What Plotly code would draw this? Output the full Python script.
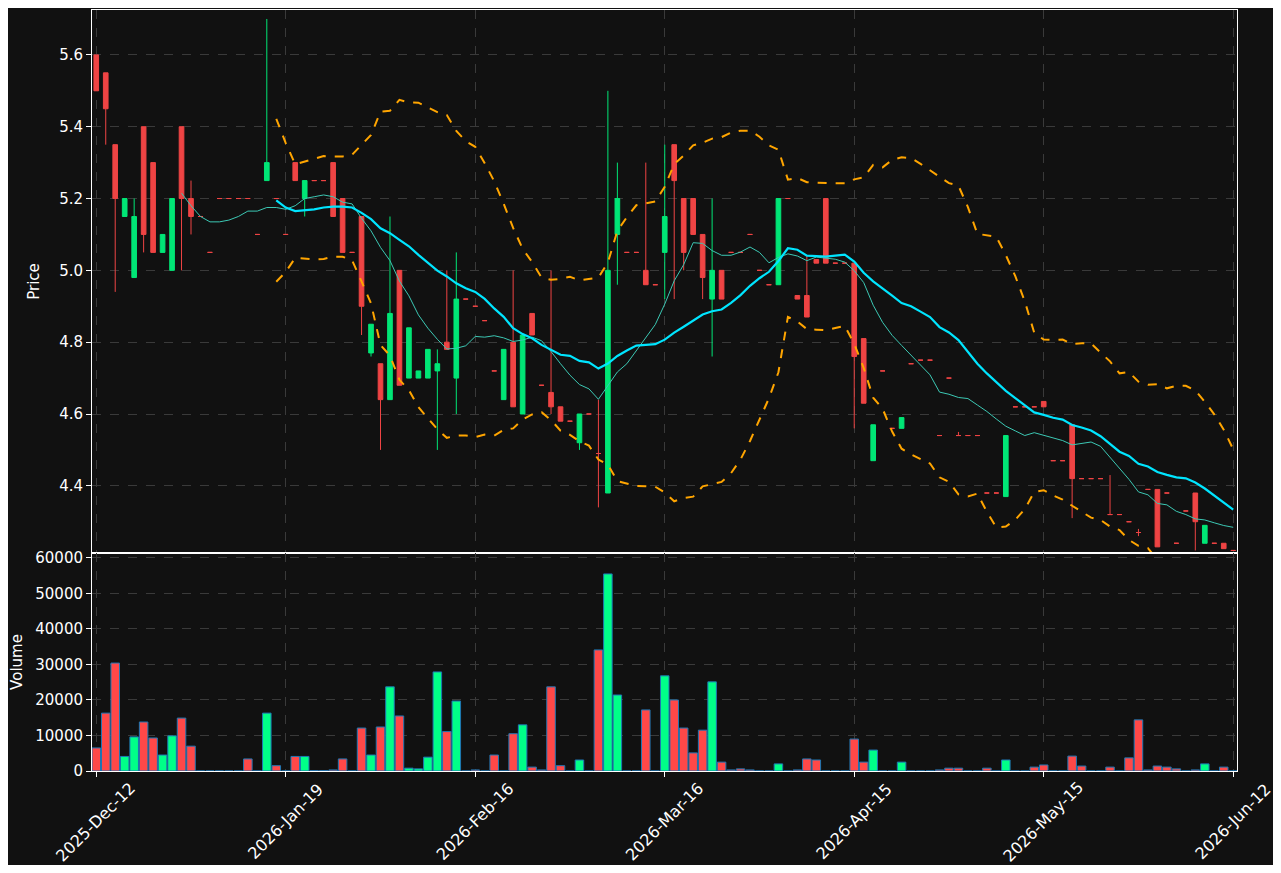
import pandas as pd
import plotly.graph_objects as go
from plotly.subplots import make_subplots

# candle data (index = trading day)
opens = [5.6, 5.55, 5.35, 5.15, 4.98, 5.4, 5.3, 5.05, 5.0, 5.4,
         5.2, 5.15, 5.05, 5.2, 5.2, 5.2, 5.2, 5.1, 5.25, 5.2,
         5.1, 5.3, 5.2, 5.25, 5.25, 5.3, 5.2, 5.05, 5.15, 4.77,
         4.74, 4.64, 5.0, 4.7, 4.7, 4.7, 4.72, 4.8, 4.7, 4.92,
         4.9, 4.86, 4.72, 4.64, 4.8, 4.6, 4.88, 4.68, 4.66, 4.62,
         4.58, 4.52, 4.6, 4.49, 4.38, 5.1, 5.05, 5.05, 5.0, 4.96,
         5.05, 5.35, 5.2, 5.2, 5.1, 4.92, 5.0, 5.05, 5.05, 5.1,
         5.0, 4.96, 4.96, 5.2, 4.93, 4.93, 5.03, 5.2, 5.02, 5.02,
         5.02, 4.81, 4.47, 4.72, 4.56, 4.56, 4.74, 4.75, 4.75, 4.54,
         4.7, 4.54, 4.54, 4.54, 4.38, 4.38, 4.37, 4.62, 4.62, 4.62,
         4.635, 4.47, 4.47, 4.57, 4.42, 4.42, 4.42, 4.32, 4.32, 4.3,
         4.27, 4.39, 4.39, 4.38, 4.24, 4.33, 4.38, 4.24, 4.24, 4.24, 4.22]
highs = [5.6, 5.55, 5.35, 5.2, 5.2, 5.4, 5.3, 5.1, 5.2, 5.4,
         5.25, 5.15, 5.05, 5.2, 5.2, 5.2, 5.2, 5.1, 5.7, 5.2,
         5.1, 5.3, 5.25, 5.25, 5.25, 5.3, 5.2, 5.05, 5.15, 4.85,
         4.74, 5.15, 5.0, 4.84, 4.72, 4.78, 4.78, 5.0, 5.05, 4.92,
         4.9, 4.86, 4.72, 4.78, 5.0, 4.82, 4.88, 4.68, 5.0, 4.62,
         4.58, 4.6, 4.6, 4.64, 5.5, 5.3, 5.05, 5.05, 5.3, 4.96,
         5.35, 5.35, 5.2, 5.2, 5.1, 5.2, 5.0, 5.05, 5.05, 5.1,
         5.0, 4.96, 5.2, 5.2, 4.93, 5.04, 5.03, 5.2, 5.02, 5.02,
         5.02, 4.81, 4.57, 4.72, 4.56, 4.59, 4.74, 4.75, 4.75, 4.54,
         4.7, 4.55, 4.54, 4.54, 4.38, 4.38, 4.54, 4.62, 4.62, 4.62,
         4.635, 4.47, 4.47, 4.57, 4.42, 4.42, 4.42, 4.43, 4.32, 4.3,
         4.28, 4.39, 4.39, 4.38, 4.24, 4.33, 4.38, 4.29, 4.24, 4.24, 4.22]
lows = [5.5, 5.35, 4.94, 5.15, 4.98, 5.05, 5.05, 5.05, 5.0, 5.0,
        5.1, 5.15, 5.05, 5.2, 5.2, 5.2, 5.2, 5.1, 5.25, 5.2,
        5.1, 5.25, 5.15, 5.25, 5.25, 5.15, 5.05, 5.05, 4.82, 4.76,
        4.5, 4.64, 4.68, 4.7, 4.7, 4.7, 4.5, 4.78, 4.6, 4.92,
        4.9, 4.86, 4.72, 4.64, 4.62, 4.6, 4.82, 4.68, 4.6, 4.58,
        4.58, 4.5, 4.6, 4.34, 4.38, 4.96, 5.05, 5.05, 4.96, 4.96,
        4.92, 4.92, 5.0, 5.1, 4.92, 4.76, 4.92, 5.05, 5.05, 5.1,
        5.0, 4.96, 4.96, 5.2, 4.92, 4.87, 5.02, 5.02, 5.02, 5.02,
        4.56, 4.63, 4.47, 4.72, 4.56, 4.56, 4.74, 4.75, 4.75, 4.54,
        4.7, 4.54, 4.54, 4.54, 4.38, 4.38, 4.37, 4.62, 4.62, 4.62,
        4.62, 4.47, 4.47, 4.31, 4.42, 4.42, 4.42, 4.32, 4.32, 4.3,
        4.26, 4.39, 4.23, 4.38, 4.24, 4.33, 4.22, 4.24, 4.24, 4.225, 4.22]
closes = [5.5, 5.45, 5.2, 5.2, 5.15, 5.1, 5.05, 5.1, 5.2, 5.2,
          5.15, 5.15, 5.05, 5.2, 5.2, 5.2, 5.2, 5.1, 5.3, 5.2,
          5.1, 5.25, 5.25, 5.25, 5.25, 5.15, 5.05, 5.05, 4.9, 4.85,
          4.64, 4.88, 4.68, 4.84, 4.72, 4.78, 4.74, 4.78, 4.92, 4.92,
          4.9, 4.86, 4.72, 4.78, 4.62, 4.82, 4.82, 4.68, 4.62, 4.58,
          4.58, 4.6, 4.6, 4.49, 5.0, 5.2, 5.05, 5.05, 4.96, 4.96,
          5.15, 5.25, 5.05, 5.1, 4.98, 5.0, 4.92, 5.05, 5.05, 5.1,
          5.0, 4.96, 5.2, 5.2, 4.92, 4.87, 5.02, 5.02, 5.02, 5.02,
          4.76, 4.63, 4.57, 4.72, 4.56, 4.59, 4.74, 4.75, 4.75, 4.54,
          4.7, 4.54, 4.54, 4.54, 4.38, 4.38, 4.54, 4.62, 4.62, 4.62,
          4.62, 4.47, 4.47, 4.42, 4.42, 4.42, 4.42, 4.32, 4.32, 4.3,
          4.27, 4.39, 4.23, 4.38, 4.24, 4.33, 4.30, 4.29, 4.24, 4.225, 4.22]
volumes = [6500, 16300, 30400, 4100, 9600, 13800, 9300, 4500, 9900, 14900,
           7000, 0, 0, 0, 0, 0, 3400, 0, 16300, 1500,
           0, 4100, 4100, 100, 100, 300, 3400, 0, 12100, 4500,
           12400, 23700, 15500, 800, 600, 3900, 27900, 11100, 19700, 0,
           300, 0, 4500, 0, 10500, 13000, 1100, 300, 23700, 1500,
           0, 3100, 0, 34100, 55500, 21400, 0, 0, 17200, 0,
           26800, 20000, 12100, 5100, 11500, 25100, 2500, 300, 600, 300,
           0, 0, 2000, 0, 300, 3400, 3100, 0, 0, 0,
           9000, 2500, 5900, 0, 0, 2500, 0, 0, 0, 300,
           800, 800, 0, 0, 800, 0, 3100, 0, 0, 1100,
           1700, 0, 0, 4200, 1400, 0, 0, 1100, 0, 3700,
           14400, 300, 1400, 1100, 600, 0, 300, 2000, 0, 1100, 0]
tick_pos = [0, 20, 40, 60, 80, 100, 120]
tick_labels = ["2025-Dec-12", "2026-Jan-19", "2026-Feb-16", "2026-Mar-16",
               "2026-Apr-15", "2026-May-15", "2026-Jun-12"]

UP = "#00e676"
DOWN = "#ef4444"

df = pd.DataFrame({"open": opens, "high": highs, "low": lows,
                   "close": closes, "volume": volumes})
df["x"] = range(len(df))
ma10 = df["close"].rolling(10).mean()
ma20 = df["close"].rolling(20).mean()
sd20 = df["close"].rolling(20).std()
bb_up = ma20 + 2 * sd20
bb_lo = ma20 - 2 * sd20
is_up = df["close"] > df["open"]
vol_colors = ["#00ff88" if u else "#ff4848" for u in is_up]

fig = make_subplots(rows=2, cols=1, shared_xaxes=True, vertical_spacing=0,
                    row_heights=[0.7135, 0.2865])

# split up / down so flat candles stay red
for part, col in [(df[is_up], UP), (df[~is_up], DOWN)]:
    fig.add_trace(go.Candlestick(
        x=part["x"], open=part["open"], high=part["high"], low=part["low"], close=part["close"],
        increasing=dict(line=dict(color=col, width=1), fillcolor=col),
        decreasing=dict(line=dict(color=col, width=1), fillcolor=col),
        whiskerwidth=0, showlegend=False, hoverinfo="skip"), row=1, col=1)

fig.add_trace(go.Scatter(x=df["x"], y=bb_up, mode="lines", showlegend=False,
                         line=dict(color="#ffa500", width=2, dash="dash")), row=1, col=1)
fig.add_trace(go.Scatter(x=df["x"], y=bb_lo, mode="lines", showlegend=False,
                         line=dict(color="#ffa500", width=2, dash="dash")), row=1, col=1)
fig.add_trace(go.Scatter(x=df["x"], y=ma10, mode="lines", showlegend=False,
                         line=dict(color="#3cc8b4", width=1)), row=1, col=1)
fig.add_trace(go.Scatter(x=df["x"], y=ma20, mode="lines", showlegend=False,
                         line=dict(color="#00e5ff", width=2.2)), row=1, col=1)

fig.add_trace(go.Bar(x=df["x"], y=df["volume"], marker_color=vol_colors, width=0.9,
                     marker_line=dict(color="#1f77b4", width=1),
                     showlegend=False), row=2, col=1)

axis_style = dict(showgrid=True, gridcolor="#3a3a3a", griddash="dash", gridwidth=1,
                  showline=True, linecolor="white", linewidth=1, mirror=True,
                  zeroline=False, ticks="outside", tickcolor="white", automargin=False,
                  tickfont=dict(color="white", size=15))

fig.update_xaxes(**axis_style, range=[-0.45, 120.4], tickvals=tick_pos,
                 showticklabels=False, rangeslider_visible=False)
fig.update_yaxes(**axis_style)
fig.update_yaxes(range=[4.213, 5.725], tickvals=[4.4, 4.6, 4.8, 5.0, 5.2, 5.4, 5.6],
                 tickformat=".1f", title=dict(text="Price", font=dict(color="white", size=15)),
                 row=1, col=1)
fig.update_yaxes(range=[0, 61400], tickvals=[0, 10000, 20000, 30000, 40000, 50000, 60000],
                 tickformat="d", title=dict(text="Volume", font=dict(color="white", size=15)),
                 row=2, col=1)

# date labels centred on the ticks, rotated 45 degrees like matplotlib
for pos, lab in zip(tick_pos, tick_labels):
    fig.add_annotation(x=pos, y=-0.067, xref="x2", yref="paper", text=lab, showarrow=False,
                       textangle=-45, xanchor="center", yanchor="middle",
                       font=dict(color="white", size=16))

# page has an 8px body margin, so the figure is a bit smaller than the window
fig.update_layout(
    width=1265, height=857,
    paper_bgcolor="#111111", plot_bgcolor="#111111",
    font=dict(family="DejaVu Sans", color="white"),
    margin=dict(l=84, r=36, t=2, b=94),
    bargap=0.1,
)

fig.write_html("out.html")
